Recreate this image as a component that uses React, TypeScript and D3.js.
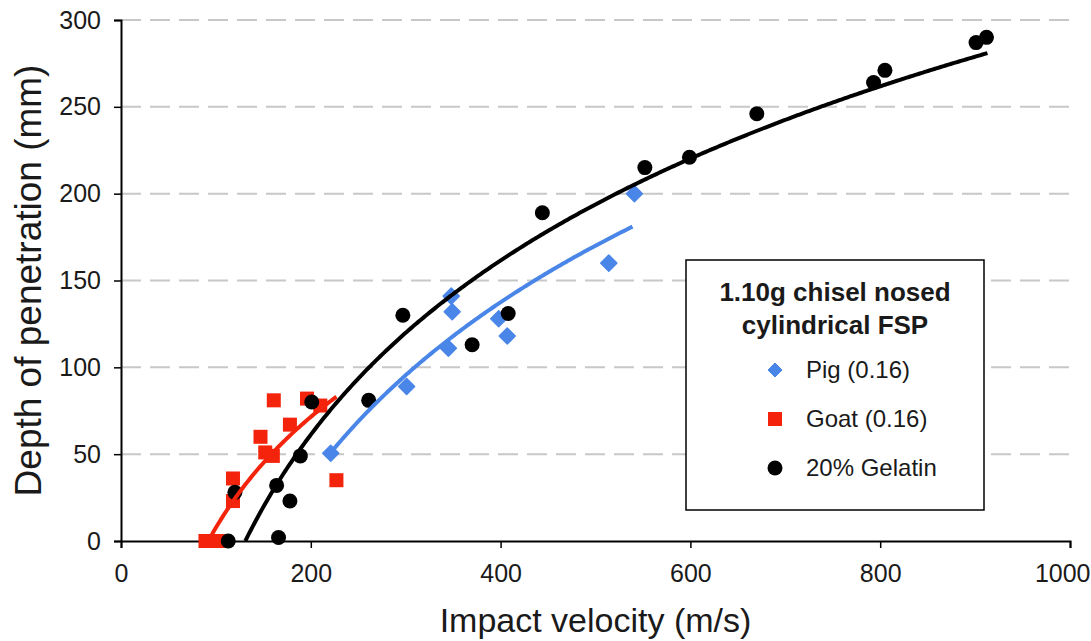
import { useEffect, useRef } from 'react'
import * as d3 from 'd3'

// Pig (0.16)
const pigVelocity = [221, 301, 348, 349, 398, 407, 345, 514, 541]
const pigDepth = [50.5, 89, 141, 132, 128, 118, 111, 160, 200]

// Goat (0.16)
const goatVelocity = [161, 196, 210, 178, 147, 152, 160, 118, 118, 89, 97, 106, 227]
const goatDepth = [81, 82, 78, 67, 60, 51, 49, 36, 23, 0, 0, 0, 35]

// 20% Gelatin
const gelatinVelocity = [113, 166, 120, 164, 178, 189, 201, 261, 297, 370, 408, 444, 552, 599, 670, 793, 805, 901, 912]
const gelatinDepth = [0, 2, 28, 32, 23, 49, 80, 81, 130, 113, 131, 189, 215, 221, 246, 264, 271, 287, 290]

// log trendlines: depth = a * ln(v / v0), drawn between from..to
const pigTrend = { a: 146, v0: 156, from: 221, to: 539 }
const goatTrend = { a: 92, v0: 92, from: 93, to: 227 }
const gelatinTrend = { a: 144.7, v0: 131, from: 131, to: 913 }

const xTicks = [0, 200, 400, 600, 800, 1000]
const yTicks = [0, 50, 100, 150, 200, 250, 300]

const legendTitle = ['1.10g chisel nosed', 'cylindrical FSP']
const legendLabels = ['Pig (0.16)', 'Goat (0.16)', '20% Gelatin']

const BLUE = '#4a86e8'
const RED = '#f4230c'
const BLACK = '#000000'
const TEXT = '#1a1a1a'
const FONT = '"Liberation Sans", Arial, Helvetica, sans-serif'

const W = 1091
const H = 641
const MARGIN = { top: 20, right: 21, bottom: 100, left: 121 }

export default function App() {
  const svgRef = useRef<SVGSVGElement>(null)

  useEffect(() => {
    if (!svgRef.current) return
    const svg = d3.select(svgRef.current)
    svg.selectAll('*').remove()

    const x = d3.scaleLinear().domain([0, 1000]).range([MARGIN.left, W - MARGIN.right])
    const y = d3.scaleLinear().domain([0, 300]).range([H - MARGIN.bottom, MARGIN.top])

    const g = svg.append('g')

    // dashed gridlines
    g.selectAll('line.grid')
      .data(yTicks.filter(t => t > 0))
      .join('line')
      .attr('class', 'grid')
      .attr('x1', x(0)).attr('x2', x(1000))
      .attr('y1', d => y(d)).attr('y2', d => y(d))
      .attr('stroke', '#c8c8c8').attr('stroke-width', 2).attr('stroke-dasharray', '20,9')

    // axes
    const yAxis = g.append('g')
      .attr('transform', `translate(${x(0)},0)`)
      .call(d3.axisLeft(y).tickValues(yTicks).tickSize(7).tickPadding(13))
    const xAxis = g.append('g')
      .attr('transform', `translate(0,${y(0)})`)
      .call(d3.axisBottom(x).tickValues(xTicks).tickFormat(d3.format('d')).tickSize(7).tickPadding(16))
    ;[yAxis, xAxis].forEach(ax => {
      ax.select('.domain').attr('stroke', BLACK).attr('stroke-width', 2)
      ax.selectAll('.tick line').attr('stroke', BLACK).attr('stroke-width', 1.5)
      ax.selectAll('text').style('font-family', FONT).style('font-size', '25px').style('fill', TEXT)
    })
    // last x label sits against the right edge, as in the original
    xAxis.selectAll<SVGTextElement, number>('.tick text')
      .filter(d => d === 1000)
      .attr('text-anchor', 'end').attr('x', W - 1 - x(1000))

    // markers
    const zip = (vs: number[], ds: number[]) => vs.map((v, i) => [v, ds[i]] as [number, number])
    const diamond = 'M0,-8L8,0L0,8L-8,0Z'

    g.append('g').selectAll('path')
      .data(zip(pigVelocity, pigDepth))
      .join('path')
      .attr('d', diamond)
      .attr('transform', d => `translate(${x(d[0])},${y(d[1])})`)
      .attr('fill', BLUE).attr('stroke', BLUE).attr('stroke-width', 1.5).attr('stroke-linejoin', 'round')

    g.append('g').selectAll('rect')
      .data(zip(goatVelocity, goatDepth))
      .join('rect')
      .attr('x', d => x(d[0]) - 7).attr('y', d => y(d[1]) - 7)
      .attr('width', 14).attr('height', 14)
      .attr('fill', RED)

    g.append('g').selectAll('circle')
      .data(zip(gelatinVelocity, gelatinDepth))
      .join('circle')
      .attr('cx', d => x(d[0])).attr('cy', d => y(d[1]))
      .attr('r', 7.5)
      .attr('fill', BLACK)

    // trendlines
    const trendLine = d3.line<[number, number]>().x(d => x(d[0])).y(d => y(d[1]))
    const trendPoints = (t: typeof pigTrend) =>
      d3.range(t.from, t.to, 2).concat([t.to]).map(v => [v, t.a * Math.log(v / t.v0)] as [number, number])

    ;([[pigTrend, BLUE], [goatTrend, RED], [gelatinTrend, BLACK]] as [typeof pigTrend, string][]).forEach(([t, c]) => {
      g.append('path')
        .attr('d', trendLine(trendPoints(t)))
        .attr('fill', 'none').attr('stroke', c).attr('stroke-width', 4)
    })

    // axis titles
    g.append('text')
      .attr('x', (x(0) + x(1000)) / 2).attr('y', 632)
      .attr('text-anchor', 'middle')
      .style('font-family', FONT).style('font-size', '34px').style('fill', TEXT)
      .text('Impact velocity (m/s)')
    g.append('text')
      .attr('transform', `translate(41,${(y(0) + y(300)) / 2}) rotate(-90)`)
      .attr('text-anchor', 'middle')
      .style('font-family', FONT).style('font-size', '37px').style('fill', TEXT)
      .text('Depth of penetration (mm)')

    // legend
    const leg = g.append('g').attr('transform', 'translate(686,260)')
    leg.append('rect')
      .attr('width', 298).attr('height', 250)
      .attr('fill', '#fff').attr('stroke', BLACK).attr('stroke-width', 1.5)
    leg.selectAll('text.title')
      .data(legendTitle)
      .join('text')
      .attr('class', 'title')
      .attr('x', 149).attr('y', (_, i) => 41 + i * 33)
      .attr('text-anchor', 'middle')
      .style('font-family', FONT).style('font-size', '26px').style('font-weight', 'bold').style('fill', TEXT)
      .text(d => d)

    const item = leg.selectAll('g.item')
      .data(legendLabels)
      .join('g')
      .attr('class', 'item')
      .attr('transform', (_, i) => `translate(89,${110 + i * 49})`)
    item.each(function (_, i) {
      const s = d3.select(this)
      if (i === 0) s.append('path').attr('d', 'M0,-7L7,0L0,7L-7,0Z').attr('fill', BLUE).attr('stroke', BLUE).attr('stroke-linejoin', 'round')
      if (i === 1) s.append('rect').attr('x', -7).attr('y', -7).attr('width', 14).attr('height', 14).attr('fill', RED)
      if (i === 2) s.append('circle').attr('r', 7.5).attr('fill', BLACK)
    })
    item.append('text')
      .attr('x', 31).attr('dy', '0.35em')
      .style('font-family', FONT).style('font-size', '24px').style('fill', TEXT)
      .text(d => d)
  }, [])

  return (
    <div style={{ position: 'absolute', left: 0, top: 0, width: W, height: H, background: '#fff' }}>
      <svg ref={svgRef} width={W} height={H} />
    </div>
  )
}
